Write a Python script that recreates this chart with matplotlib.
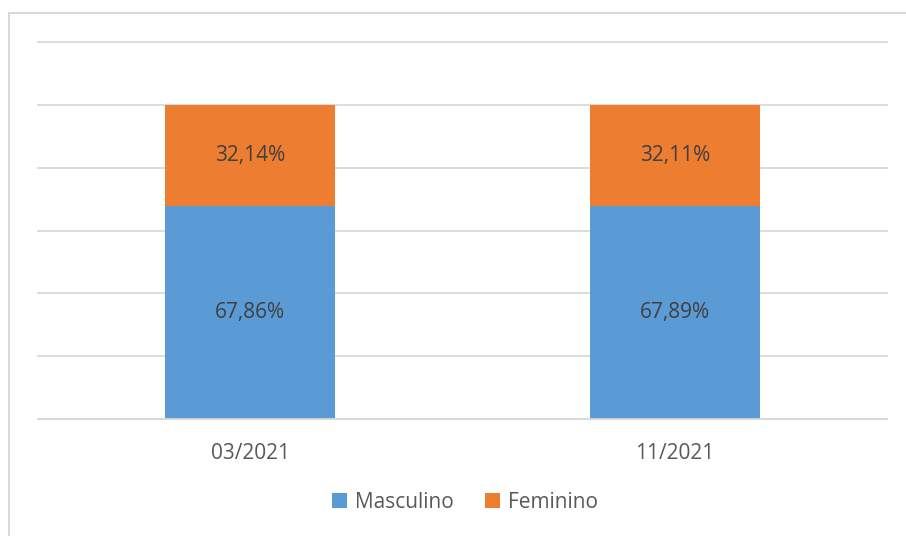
import matplotlib
matplotlib.use("Agg")
import matplotlib.pyplot as plt
from matplotlib.patches import Rectangle

categories = ["03/2021", "11/2021"]
masculino = [67.86, 67.89]
feminino = [32.14, 32.11]
series_names = ["Masculino", "Feminino"]
colors = ["#5B9BD5", "#ED7D31"]

plt.rcParams['font.family'] = ['Open Sans', 'DejaVu Sans']
FS = 15

fig = plt.figure(figsize=(9.06, 5.36), dpi=100)
fig.patches.append(Rectangle((9/906, -0.1), 1.1, (536-13)/536 + 0.1, transform=fig.transFigure,
                             fill=False, edgecolor="#D9D9D9", linewidth=1.5))
ax = fig.add_axes([38/906, (536-419)/536, 849/906, 377/536])

x = range(len(categories))
m = [v/100 for v in masculino]
f = [v/100 for v in feminino]
b1 = ax.bar(x, m, width=0.4, color=colors[0], label=series_names[0], zorder=2)
b2 = ax.bar(x, f, width=0.4, bottom=m, color=colors[1], label=series_names[1], zorder=2)

for i in x:
    ax.text(i, m[i]/2, f"{masculino[i]:.2f}%".replace(".", ","), ha="center", va="center",
            fontsize=FS, color="#404040", zorder=3)
    ax.text(i, m[i] + f[i]/2, f"{feminino[i]:.2f}%".replace(".", ","), ha="center", va="center",
            fontsize=FS, color="#404040", zorder=3)

ax.set_xlim(-0.5, 1.5)
ax.set_ylim(0, 1.2)
ax.set_yticks([0, 0.2, 0.4, 0.6, 0.8, 1.0, 1.2])
ax.yaxis.grid(True, color="#D9D9D9", linewidth=1.3, zorder=0)
for gl in ax.get_ygridlines():
    gl.set_clip_on(False)
ax.tick_params(axis="y", left=False, labelleft=False)
ax.set_xticks(list(x))
ax.set_xticklabels(categories, fontsize=FS, color="#595959")
ax.tick_params(axis="x", length=0, pad=17)
for s in ["top", "right", "left"]:
    ax.spines[s].set_visible(False)
ax.spines["bottom"].set_color("#D9D9D9")
ax.spines["bottom"].set_linewidth(1.3)

leg = fig.legend(handles=[b1, b2], labels=series_names, loc="center", bbox_to_anchor=(465/906, (536-502)/536),
                 ncol=2, frameon=False, fontsize=FS, handlelength=0.7, handleheight=0.7,
                 columnspacing=1.5, handletextpad=0.4)
for t in leg.get_texts():
    t.set_color("#595959")

fig.savefig("out.png", dpi=100)
